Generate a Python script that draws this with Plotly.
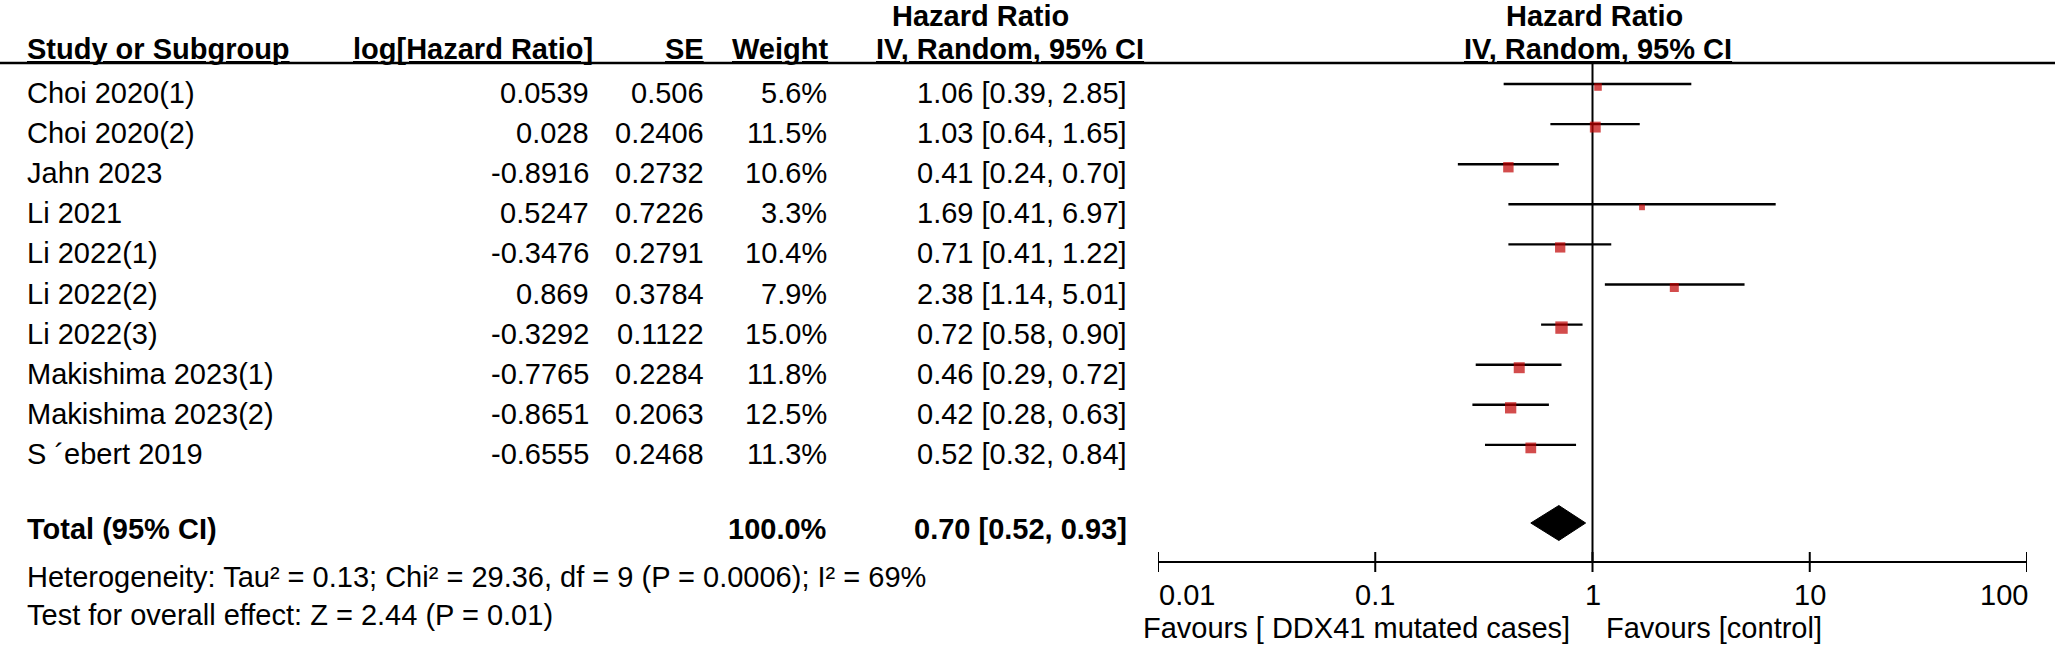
import math
import plotly.graph_objects as go

# ---------------- data ----------------
studies = ["Choi 2020(1)", "Choi 2020(2)", "Jahn 2023", "Li 2021", "Li 2022(1)",
           "Li 2022(2)", "Li 2022(3)", "Makishima 2023(1)", "Makishima 2023(2)",
           "S \u00b4ebert 2019"]
log_hr_txt = ["0.0539", "0.028", "-0.8916", "0.5247", "-0.3476", "0.869",
              "-0.3292", "-0.7765", "-0.8651", "-0.6555"]
se_txt = ["0.506", "0.2406", "0.2732", "0.7226", "0.2791", "0.3784",
          "0.1122", "0.2284", "0.2063", "0.2468"]
weights = [5.6, 11.5, 10.6, 3.3, 10.4, 7.9, 15.0, 11.8, 12.5, 11.3]
hr = [1.06, 1.03, 0.41, 1.69, 0.71, 2.38, 0.72, 0.46, 0.42, 0.52]
ci_lo = [0.39, 0.64, 0.24, 0.41, 0.41, 1.14, 0.58, 0.29, 0.28, 0.32]
ci_hi = [2.85, 1.65, 0.70, 6.97, 1.22, 5.01, 0.90, 0.72, 0.63, 0.84]

total_hr = 0.70
total_lo = 0.52
total_hi = 0.93
total_weight = "100.0%"

tick_vals = [0.01, 0.1, 1, 10, 100]
tick_text = ["0.01", "0.1", "1", "10", "100"]

het_text = "Heterogeneity: Tau\u00b2 = 0.13; Chi\u00b2 = 29.36, df = 9 (P = 0.0006); I\u00b2 = 69%"
test_text = "Test for overall effect: Z = 2.44 (P = 0.01)"
favours_left = "Favours [ DDX41 mutated cases]"
favours_right = "Favours [control]"

# ---------------- layout constants (pixels) ----------------
W, H = 2055, 646
FONT = "Liberation Sans, Arial, sans-serif"
FS = 29
ROW0 = 93.0
STEP = 40.1
HEAD_Y = 49
TOP_Y = 16
LINE_Y = 63
AXIS_Y = 562
TOTAL_Y = 529
HET_Y = 577
TEST_Y = 615
TICKLAB_Y = 595
FAV_Y = 628
X0_PX, X1_PX = 1158, 2027
RED = "#C00000"

def px(x):
    return x / W

fig = go.Figure()

annotations = []

def txt(x, y, s, anchor="left", bold=False, xref="paper", xshift=0, underline=False):
    if bold:
        s = "<b>" + s + "</b>"
    if underline:
        s = '<span style="text-decoration:underline">' + s + "</span>"
    annotations.append(dict(
        x=px(x) if xref == "paper" else x, y=y, xref=xref, yref="y",
        text=s, showarrow=False, xanchor=anchor, yanchor="middle",
        xshift=xshift, borderpad=0,
        font=dict(family=FONT, size=FS, color="black")))

# headers
txt(980, TOP_Y, "Hazard Ratio", "center", bold=True)
txt(26, HEAD_Y, "Study or Subgroup", "left", bold=True, underline=True)
txt(594, HEAD_Y, "log[Hazard Ratio]", "right", bold=True, underline=True)
txt(705, HEAD_Y, "SE", "right", bold=True, underline=True)
txt(829, HEAD_Y, "Weight", "right", bold=True, underline=True)
txt(1145, HEAD_Y, "IV, Random, 95% CI", "right", bold=True, underline=True)
txt(0, TOP_Y, "Hazard Ratio", "center", bold=True, xref="x", xshift=2)
txt(0, HEAD_Y, "IV, Random, 95% CI", "center", bold=True, xref="x", xshift=5, underline=True)

# rows
row_y = [ROW0 + i * STEP for i in range(len(studies))]
for i, s in enumerate(studies):
    y = row_y[i]
    txt(26, y, s, "left")
    txt(590, y, log_hr_txt[i], "right")
    txt(705, y, se_txt[i], "right")
    txt(828, y, f"{weights[i]:.1f}%", "right")
    txt(1128, y, f"{hr[i]:.2f} [{ci_lo[i]:.2f}, {ci_hi[i]:.2f}]", "right")

# total
txt(26, TOTAL_Y, "Total (95% CI)", "left", bold=True)
txt(828, TOTAL_Y, total_weight, "right", bold=True)
txt(1128, TOTAL_Y, f"{total_hr:.2f} [{total_lo:.2f}, {total_hi:.2f}]", "right", bold=True)
txt(26, HET_Y, het_text, "left")
txt(26, TEST_Y, test_text, "left")

# tick labels
for i, (v, t) in enumerate(zip(tick_vals, tick_text)):
    anchor = "left" if i == 0 else ("right" if i == len(tick_vals) - 1 else "center")
    txt(math.log10(v), TICKLAB_Y, t, anchor, xref="x", xshift=(2 if i == len(tick_vals) - 1 else 0))

txt(0, FAV_Y, favours_left, "right", xref="x", xshift=-22)
txt(0, FAV_Y, favours_right, "left", xref="x", xshift=12)

# ---------------- marks ----------------
# vertical line of no effect
fig.add_trace(go.Scatter(x=[1, 1], y=[LINE_Y, AXIS_Y], mode="lines",
                         line=dict(color="black", width=2), hoverinfo="skip"))

# CI lines
cx, cy = [], []
for i in range(len(studies)):
    y = row_y[i] - 9
    cx += [ci_lo[i], ci_hi[i], None]
    cy += [y, y, None]
fig.add_trace(go.Scatter(x=cx, y=cy, mode="lines",
                         line=dict(color="black", width=2.4), hoverinfo="skip"))

# squares
fig.add_trace(go.Scatter(
    x=hr, y=[y - 6 for y in row_y], mode="markers",
    marker=dict(symbol="square", color=RED,
                size=[3.2 * math.sqrt(w) for w in weights], line=dict(width=0)),
    hoverinfo="skip"))

# diamond
DY = TOTAL_Y - 6
DH = 17.5
fig.add_trace(go.Scatter(
    x=[total_lo, total_hr, total_hi, total_hr, total_lo],
    y=[DY, DY - DH, DY, DY + DH, DY], mode="lines", fill="toself",
    fillcolor="black", line=dict(color="black", width=1), hoverinfo="skip"))

# bottom axis line and ticks
fig.add_trace(go.Scatter(x=[tick_vals[0], tick_vals[-1]], y=[AXIS_Y, AXIS_Y], mode="lines",
                         line=dict(color="black", width=2), hoverinfo="skip"))
tx, ty = [], []
for v in tick_vals:
    tx += [v, v, None]
    ty += [AXIS_Y - 10, AXIS_Y + 10, None]
fig.add_trace(go.Scatter(x=tx, y=ty, mode="lines",
                         line=dict(color="black", width=2), hoverinfo="skip"))

fig.update_layout(
    width=W, height=H, margin=dict(l=0, r=0, t=0, b=0),
    paper_bgcolor="white", plot_bgcolor="white", showlegend=False,
    xaxis=dict(type="log", range=[-2, 2], domain=[X0_PX / W, X1_PX / W],
               visible=False, fixedrange=True),
    yaxis=dict(range=[H, 0], domain=[0, 1], visible=False, fixedrange=True),
    annotations=annotations,
    shapes=[dict(type="line", xref="paper", yref="y", x0=0, x1=1, y0=LINE_Y, y1=LINE_Y,
                 line=dict(color="black", width=2.5))],
)

fig.write_html("out.html", config={"displayModeBar": False},
               post_script="document.body.style.margin='0';document.body.style.overflow='hidden';")
